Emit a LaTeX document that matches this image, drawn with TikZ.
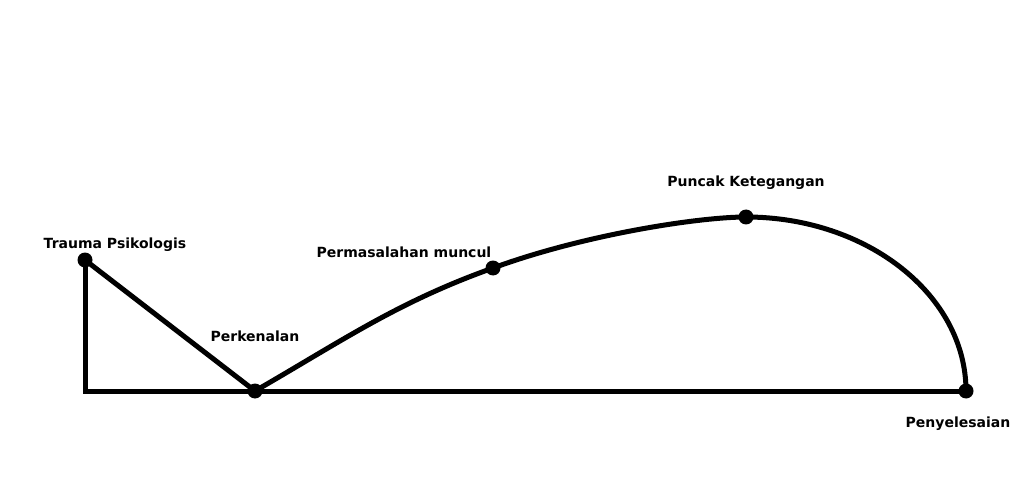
\documentclass[tikz,border=0pt]{standalone}
\usepackage{fontspec}
\setmainfont{DejaVu Sans}
\usetikzlibrary{positioning}

\begin{document}
\begin{tikzpicture}[x=1pt,y=-1pt,line width=5pt,
  dot/.style={circle,fill=black,inner sep=0pt,minimum size=15pt},
  lbl/.style={font=\fontsize{14}{16}\selectfont\bfseries,inner sep=0pt,anchor=base}]
\useasboundingbox (0,0) rectangle (1029,500);
% titik-titik alur
\node [dot] (trauma)  at (85,260)  {};
\node [dot] (kenal)   at (255,391) {};
\node [dot] (masalah) at (493,268) {};
\node [dot] (puncak)  at (746,217) {};
\node [dot] (selesai) at (966,391) {};
\coordinate (sudut) at (85,391);
% garis
\draw (trauma.center) -- (sudut) -- (selesai.center);
\draw (trauma.center) -- (kenal.center);
\draw (kenal.center) .. controls (345,339) and (398,302) .. (masalah.center)
  .. controls (586,234) and (700,217) .. (puncak.center)
  .. controls (867,217) and (966,295) .. (selesai.center);
% label
\node [lbl] (l-trauma)  at (115,248) {Trauma Psikologis};
\node [lbl] (l-kenal)   at (255,341) {Perkenalan};
\node [lbl] (l-masalah) at (404,258) {Permasalahan muncul};
\node [lbl] (l-puncak)  at (746,187) {Puncak Ketegangan};
\node [lbl] (l-selesai) at (958,427) {Penyelesaian};
\end{tikzpicture}
\end{document}
